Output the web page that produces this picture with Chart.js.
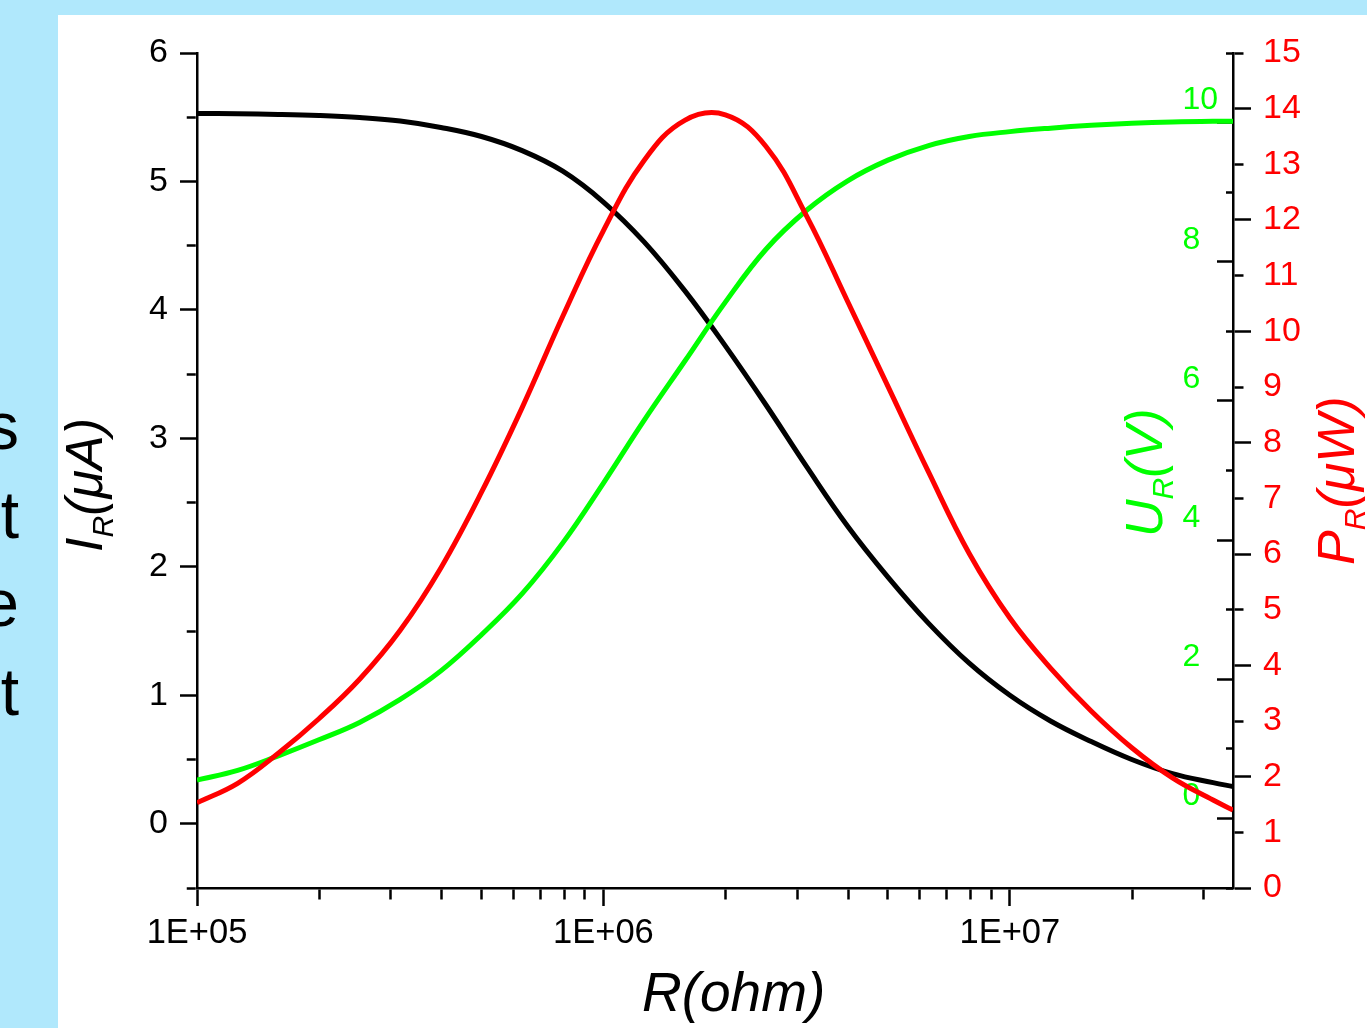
<!DOCTYPE html>
<html>
<head>
<meta charset="utf-8">
<script src="https://cdn.jsdelivr.net/npm/chart.js@4.4.1/dist/chart.umd.min.js"></script>
<style>
html,body{margin:0;padding:0;width:1367px;height:1028px;overflow:hidden;background:#b0e8fc;font-family:"Liberation Sans",Arial,sans-serif;}
#panel{position:absolute;left:58px;top:15px;width:1309px;height:1013px;background:#fff;}
#c{position:absolute;left:0;top:0;}
.side{position:absolute;left:-200px;top:382px;width:219px;text-align:right;font-size:66px;line-height:88.5px;color:#000;}
.ttl{position:absolute;transform-origin:0 0;transform:rotate(-90deg);white-space:nowrap;font-style:italic;font-size:52px;line-height:1;}
.sb{font-size:0.58em;position:relative;top:0.38em;}
.xt{position:absolute;left:642px;top:965px;white-space:nowrap;font-style:italic;font-size:55px;line-height:1;color:#000;}
</style>
</head>
<body>
<div class="side">s<br>t<br>e<br>t</div>
<div id="panel"><canvas id="c" width="1309" height="1013"></canvas></div>
<div class="ttl" style="left:58px;top:552px;color:#000">I<span class="sb">R</span>(μA)</div>
<div class="ttl" style="left:1118px;top:537px;color:#00ff00">U<span class="sb">R</span>(V)</div>
<div class="ttl" style="left:1310px;top:565px;color:#ff0000">P<span class="sb">R</span>(μW)</div>
<div class="xt">R(ohm)</div>
<script>
const resistanceOhm = [1e5,1.259e5,1.585e5,1.995e5,2.512e5,3.162e5,3.981e5,5.012e5,6.310e5,7.943e5,
                       1e6,1.259e6,1.585e6,1.995e6,2.512e6,3.162e6,3.981e6,5.012e6,6.310e6,7.943e6,
                       1e7,1.259e7,1.585e7,1.995e7,2.512e7,3.162e7,3.54e7];
const currentMicroA = [5.530,5.527,5.522,5.513,5.497,5.47,5.42,5.35,5.24,5.08,
                       4.84,4.53,4.15,3.72,3.26,2.78,2.32,1.92,1.56,1.25,
                       1.00,0.80,0.64,0.50,0.39,0.32,0.29];
const voltageV = [0.55,0.69,0.90,1.13,1.38,1.71,2.12,2.64,3.23,3.96,
                  4.82,5.72,6.57,7.42,8.18,8.74,9.16,9.46,9.67,9.80,
                  9.87,9.92,9.96,9.99,10.01,10.02,10.02];
const powerMicroW = [1.53,1.88,2.42,3.04,3.75,4.63,5.75,7.11,8.63,10.27,
                     11.81,13.07,13.79,13.89,13.32,12.07,10.55,9.01,7.47,6.01,
                     4.85,3.95,3.18,2.52,1.98,1.58,1.40];

// ---- ticks ----
const xMajorTicks = [1e5,1e6,1e7];
const xTickLabels = ['1E+05','1E+06','1E+07'];
const xMinorFactors = [2,3,4,5,6,7,8,9];
const currentTicks = [-0.5,0,0.5,1,1.5,2,2.5,3,3.5,4,4.5,5,5.5,6];
const voltageTicks = [-1,0,1,2,3,4,5,6,7,8,9,10,11];
const powerTicks = [0,1,2,3,4,5,6,7,8,9,10,11,12,13,14,15];

const X_MIN = 1e5, X_MAX = 3.54e7;
const xAllTicks = [];
xMajorTicks.forEach(m => { xAllTicks.push(m); xMinorFactors.forEach(f => { if (m*f <= X_MAX) xAllTicks.push(m*f); }); });
xAllTicks.sort((a,b)=>a-b);

const isInt = v => Math.abs(v - Math.round(v)) < 1e-9;
const isEven = v => isInt(v) && Math.round(v) % 2 === 0;
const xMajorIndex = v => xMajorTicks.findIndex(m => Math.abs(m - v) / m < 1e-6);
const FONT = "'Liberation Sans', Arial, sans-serif";
const setTicks = arr => s => { s.ticks = arr.map(v => ({value: v})); };
const pairs = ys => resistanceOhm.map((r, i) => ({x: r, y: ys[i]}));

new Chart(document.getElementById('c'), {
  type: 'line',
  data: {
    datasets: [
      {label: 'I_R (μA)', data: pairs(currentMicroA), yAxisID: 'yI', borderColor: '#000000', borderWidth: 5, order: 3},
      {label: 'U_R (V)', data: pairs(voltageV), yAxisID: 'yU', borderColor: '#00ff00', borderWidth: 5, order: 2},
      {label: 'P_R (μW)', data: pairs(powerMicroW), yAxisID: 'yP', borderColor: '#ff0000', borderWidth: 5, order: 1}
    ]
  },
  options: {
    responsive: false,
    animation: false,
    devicePixelRatio: 1,
    layout: {padding: {top: 38, left: 0, right: 0, bottom: 0}},
    plugins: {legend: {display: false}, tooltip: {enabled: false}},
    elements: {
      point: {radius: 0},
      line: {tension: 0.4, cubicInterpolationMode: 'default', fill: false, borderCapStyle: 'butt', borderJoinStyle: 'round'}
    },
    scales: {
      x: {
        type: 'logarithmic', position: 'bottom', min: X_MIN, max: X_MAX,
        afterBuildTicks: setTicks(xAllTicks),
        afterFit: s => { s.height = 140; },
        ticks: {
          autoSkip: false, maxRotation: 0, minRotation: 0, padding: 7, color: '#000',
          font: {family: FONT, size: 34.5},
          callback: v => { const k = xMajorIndex(v); return k >= 0 ? xTickLabels[k] : ''; }
        },
        grid: {
          drawOnChartArea: false, tickLength: 18, tickWidth: 2.5, tickColor: '#000',
          tickBorderDash: c => (c.tick && xMajorIndex(c.tick.value) >= 0) ? [] : [10, 100]
        },
        border: {display: true, color: '#000', width: 2.5}
      },
      yI: {
        type: 'linear', position: 'left', min: -0.5, max: 6, weight: 1,
        afterBuildTicks: setTicks(currentTicks),
        afterFit: s => { s.width = 139; },
        ticks: {
          autoSkip: false, padding: 12, color: '#000', font: {family: FONT, size: 34},
          callback: v => isInt(v) ? String(Math.round(v)) : ''
        },
        grid: {
          drawOnChartArea: false, tickLength: 17, tickWidth: 2.5, tickColor: '#000',
          tickBorderDash: c => (c.tick && isInt(c.tick.value)) ? [] : [0, 6.75, 9, 100]
        },
        border: {display: true, color: '#000', width: 2.5}
      },
      yU: {
        type: 'linear', position: 'right', min: -1, max: 11, weight: 0,
        afterBuildTicks: setTicks(voltageTicks),
        afterFit: s => { s.width = 0; },
        ticks: {
          autoSkip: false, mirror: true, crossAlign: 'far', padding: -15, labelOffset: -22, color: '#00ff00',
          font: {family: FONT, size: 32},
          callback: v => (isEven(v) && v >= 0 && v <= 10) ? String(Math.round(v)) : ''
        },
        grid: {
          drawOnChartArea: false, tickLength: -16, tickWidth: 2.5, tickColor: '#000',
          tickBorderDash: c => (c.tick && isEven(c.tick.value)) ? [] : [7, 100]
        },
        border: {display: false}
      },
      yP: {
        type: 'linear', position: 'right', min: 0, max: 15, weight: 1,
        afterBuildTicks: setTicks(powerTicks),
        afterFit: s => { s.width = 134; },
        ticks: {
          autoSkip: false, padding: 12, color: '#ff0000', font: {family: FONT, size: 34},
          callback: v => String(Math.round(v))
        },
        grid: {
          drawOnChartArea: false, tickLength: 18, tickWidth: 2.5, tickColor: '#000',
          tickBorderDash: c => (c.tick && isEven(c.tick.value)) ? [] : [9, 100]
        },
        border: {display: true, color: '#000', width: 2.5}
      }
    }
  }
});
</script>
</body>
</html>
